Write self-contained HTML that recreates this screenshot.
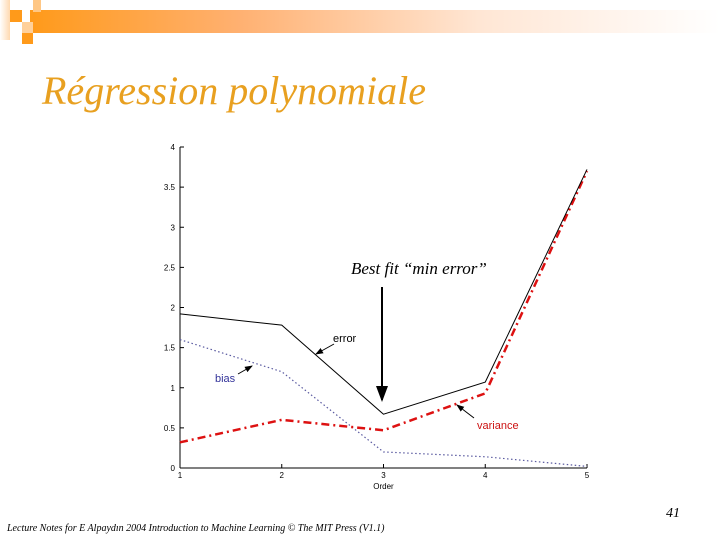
<!DOCTYPE html>
<html><head><meta charset="utf-8"><style>
body{margin:0;width:720px;height:540px;background:#fff;overflow:hidden;position:relative;font-family:"Liberation Serif",serif}
.abs{position:absolute}
</style></head><body>
<div class="abs" style="left:30px;top:10px;width:690px;height:23px;background:linear-gradient(90deg,#ff9a1a 0%,#ffb070 30%,#ffe6d4 65%,#fff 100%)"></div>
<div class="abs" style="left:0;top:0;width:10px;height:40px;background:linear-gradient(90deg,#fff,#ffd9b0)"></div>
<div class="abs" style="left:10px;top:10px;width:12px;height:12px;background:#ff9a1a"></div>
<div class="abs" style="left:33px;top:0;width:8px;height:12px;background:#ffc785"></div>
<div class="abs" style="left:22px;top:22px;width:11px;height:12px;background:#ffd09a"></div>
<div class="abs" style="left:22px;top:33px;width:11px;height:11px;background:#ff9a1a"></div>
<div class="abs" style="left:42px;top:67px;font-size:40px;font-style:italic;color:#e8a020">Régression polynomiale</div>
<svg class="abs" style="left:0;top:0" width="720" height="540">
<defs><marker id="ah" markerWidth="8" markerHeight="8" refX="7" refY="4" orient="auto"><path d="M0,1 L8,4 L0,7z" fill="#000"/></marker></defs>
<g id="axes" font-family="Liberation Sans,sans-serif" font-size="8" fill="#000"></g>
<g id="series"></g>
<text x="351" y="274" font-size="17" font-style="italic" font-family="Liberation Serif,serif">Best fit “min error”</text>
<line x1="382" y1="287" x2="382" y2="400" stroke="#000" stroke-width="2" marker-end="url(#ah)"/>
<text x="333" y="342" font-size="11" font-family="Liberation Sans,sans-serif">error</text>
<line x1="334" y1="344" x2="316" y2="354" stroke="#000" stroke-width="1" marker-end="url(#ah)"/>
<text x="215" y="382" font-size="11" fill="#33339a" font-family="Liberation Sans,sans-serif">bias</text>
<line x1="238" y1="374" x2="252" y2="366" stroke="#000" stroke-width="1" marker-end="url(#ah)"/>
<text x="477" y="429" font-size="11" fill="#cc1111" font-family="Liberation Sans,sans-serif">variance</text>
<line x1="474" y1="418" x2="457" y2="405" stroke="#000" stroke-width="1" marker-end="url(#ah)"/>
</svg>
<div class="abs" style="left:666px;top:506px;font-size:14px;font-style:italic">41</div>
<div class="abs" style="left:7px;top:523px;font-size:10px;font-style:italic">Lecture Notes for E Alpaydın 2004 Introduction to Machine Learning © The MIT Press (V1.1)</div>
<script>
const categories=[1,2,3,4,5];
const errorVals=[1.92,1.78,0.67,1.07,3.72];
const biasVals=[1.6,1.2,0.2,0.14,0.02];
const varianceVals=[0.32,0.6,0.47,0.93,3.7];
const yTicks=[0,0.5,1,1.5,2,2.5,3,3.5,4];
const yTickLabels=["0","0.5","1","1.5","2","2.5","3","3.5","4"];
const NS="http://www.w3.org/2000/svg";
const X=v=>180+(v-1)*(587-180)/4, Y=v=>468-v*(468-147)/4;
const ax=document.getElementById('axes'), se=document.getElementById('series');
function mk(t,a,p){const e=document.createElementNS(NS,t);for(const k in a)e.setAttribute(k,a[k]);p.appendChild(e);return e;}
const yl=mk('line',{x1:X(1),y1:Y(0),x2:X(1),y2:Y(4),stroke:'#000'},ax);


const xl=mk('line',{x1:X(1),y1:Y(0),x2:X(5),y2:Y(0),stroke:'#000'},ax);


yTicks.forEach((v,i)=>{mk('line',{x1:X(1),y1:Y(v),x2:X(1)+4,y2:Y(v),stroke:'#000'},ax);
const t=mk('text',{x:X(1)-5,y:Y(v)+3,'text-anchor':'end'},ax);t.textContent=yTickLabels[i];

});
categories.forEach(c=>{mk('line',{x1:X(c),y1:Y(0),x2:X(c),y2:Y(0)-4,stroke:'#000'},ax);
const t=mk('text',{x:X(c),y:Y(0)+10,'text-anchor':'middle'},ax);t.textContent=c;

});
const xt=mk('text',{x:X(3),y:Y(0)+21,'text-anchor':'middle'},ax);xt.textContent='Order';


function line(vals,style,name){const p=mk('polyline',Object.assign({points:vals.map((v,i)=>X(categories[i])+','+Y(v)).join(' '),fill:'none'},style),se);

}
line(biasVals,{stroke:'#5a5aa0','stroke-width':1.2,'stroke-dasharray':'1.5 2.5'},'bias-line');
line(varianceVals,{stroke:'#dd1111','stroke-width':2.5,'stroke-dasharray':'8 4 2 4'},'variance-line');
line(errorVals,{stroke:'#000','stroke-width':1},'error-line');
</script>
</body></html>
